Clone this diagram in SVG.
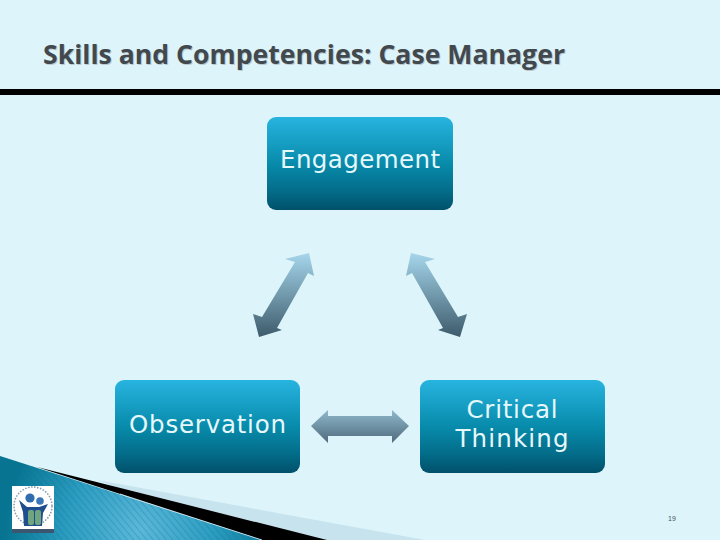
<svg xmlns="http://www.w3.org/2000/svg" width="720" height="540" viewBox="0 0 720 540">
<style>
.box{fill:url(#boxG)}
.lbl{font-family:"DejaVu Sans","Liberation Sans",sans-serif;font-size:24.500px;fill:#e6f8fc;text-anchor:middle}
.title{font-family:"Open Sans","Noto Sans",sans-serif;font-weight:700;font-size:27px;fill:#42494e}
</style>
<defs>
<linearGradient id="boxG" x1="0" y1="0" x2="0" y2="1">
<stop offset="0" stop-color="#27b4e0"/><stop offset="0.5" stop-color="#088bab"/><stop offset="0.8" stop-color="#036c89"/><stop offset="1" stop-color="#01506a"/>
</linearGradient>
<linearGradient id="arrowV" x1="0" y1="0" x2="0" y2="1">
<stop offset="0" stop-color="#a6d6ec"/><stop offset="1" stop-color="#3d5b6b"/>
</linearGradient>
<linearGradient id="arrowH" x1="0" y1="0" x2="0" y2="1">
<stop offset="0" stop-color="#90b8cd"/><stop offset="1" stop-color="#4e6b7c"/>
</linearGradient>
<radialGradient id="tealG" gradientUnits="userSpaceOnUse" cx="140" cy="530" r="135">
<stop offset="0" stop-color="#5cb8da"/><stop offset="0.55" stop-color="#2b9cc0"/><stop offset="1" stop-color="#077592"/>
</radialGradient>
<pattern id="stripes" width="5" height="5" patternUnits="userSpaceOnUse" patternTransform="rotate(-40)">
<rect width="1" height="5" fill="#0a6d8c" fill-opacity="0.28"/>
</pattern>
</defs>
<rect width="720" height="540" fill="#dcf4fa"/>
<g id="title">
<text class="title" x="44" y="65" style="fill:#bcc9cd" textLength="522" lengthAdjust="spacingAndGlyphs">Skills and Competencies: Case Manager</text>
<text class="title" x="43" y="64" textLength="522" lengthAdjust="spacingAndGlyphs">Skills and Competencies: Case Manager</text>
</g>
<rect id="rule" x="0" y="89" width="720" height="6" fill="#000"/>
<g id="corner">
<polygon points="97,480 425,540 262,540" fill="#c6e3ee"/>
<polygon points="37,467 327,540 262,540" fill="#000"/>
<polygon points="0,456 262,540 0,540" fill="url(#tealG)"/>
<polygon points="0,456 262,540 0,540" fill="url(#stripes)"/>
<line x1="120" y1="494" x2="262" y2="540" stroke="#d6eef5" stroke-width="0.8"/>
</g>
<g id="logo">
<rect x="12" y="486" width="42" height="47" fill="#fff"/>
<circle cx="33" cy="506" r="19" fill="none" stroke="#7f9aa8" stroke-width="1.500" stroke-dasharray="1.500 1.500"/>
<path d="M19,500 L27,507 L39,507 L48,504 L43,513 L42,526 L24,526 L23,512 Z" fill="#1f4e8f"/>
<circle cx="30" cy="498" r="4.600" fill="#2f6cb0"/>
<circle cx="40" cy="501" r="3.800" fill="#3b78b8"/>
<rect x="28" y="510" width="6" height="15" rx="2" fill="#6fa57f"/>
<rect x="35" y="510" width="6" height="15" rx="2" fill="#6fa57f"/>
<rect x="12" y="529" width="42" height="4" fill="#3d5670"/>
</g>
<g id="connectors">
<polygon points="309,253 314,276 308,273 277,328 282,330 259,337 253,314 262,317 295,262 285,259" fill="url(#arrowV)"/>
<polygon points="411,253 406,276 412,273 443,328 438,330 460,337 467,314 458,317 425,262 435,259" fill="url(#arrowV)"/>
<polygon points="311,426 328,410 328,416 392,416 392,410 409,426 392,443 392,436 328,436 328,443" fill="url(#arrowH)"/>
</g>
<g id="engagement">
<rect class="box" x="267" y="117" width="186" height="93" rx="9"/>
<text class="lbl" x="360" y="168" textLength="160">Engagement</text>
</g>
<g id="observation">
<rect class="box" x="115" y="380" width="185" height="93" rx="9"/>
<text class="lbl" x="207.500" y="433" textLength="157">Observation</text>
</g>
<g id="critical-thinking">
<rect class="box" x="420" y="380" width="185" height="93" rx="9"/>
<text class="lbl" x="512" y="418" textLength="91">Critical</text>
<text class="lbl" x="512" y="447" textLength="113">Thinking</text>
</g>
<text id="page" x="672" y="521" font-family="Liberation Sans,sans-serif" font-size="7" fill="#4a5358" text-anchor="middle">19</text>
</svg>
